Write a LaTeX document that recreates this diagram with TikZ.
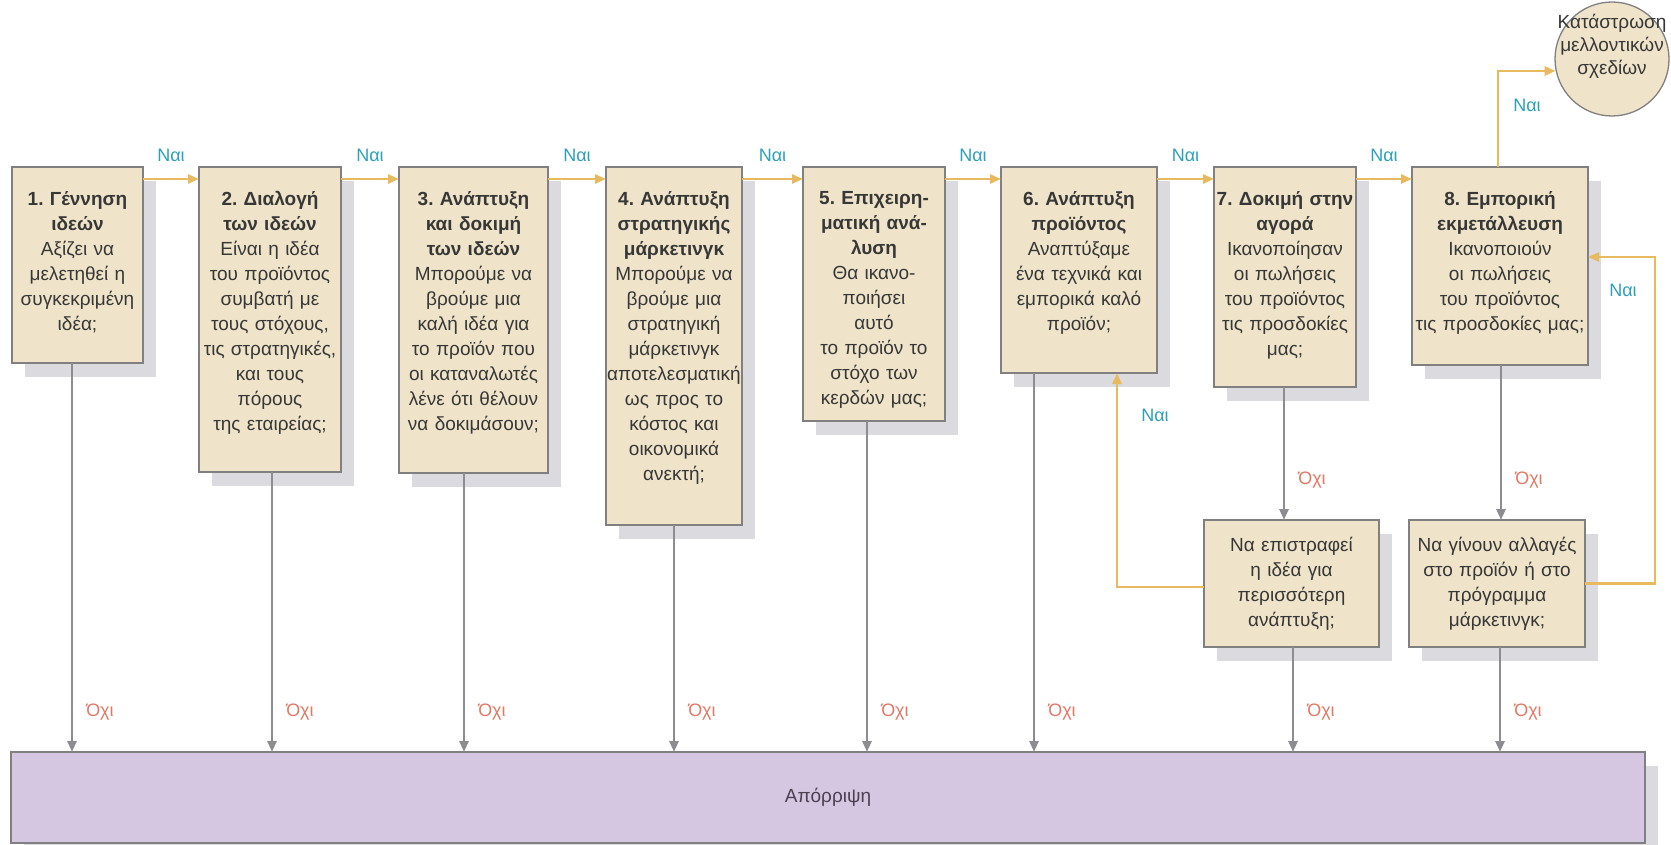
\documentclass[tikz,border=0pt]{standalone}
\usepackage{fontspec}
\setmainfont{Liberation Sans}
\frenchspacing
\usetikzlibrary{arrows.meta,shadows,positioning,calc}
\definecolor{beige}{RGB}{239,228,201}
\definecolor{bordc}{RGB}{128,128,128}
\definecolor{shadc}{RGB}{218,218,223}
\definecolor{orangec}{RGB}{232,186,96}
\definecolor{grayc}{RGB}{140,140,145}
\definecolor{tealc}{RGB}{45,160,185}
\definecolor{salmonc}{RGB}{225,120,100}
\definecolor{purplec}{RGB}{213,199,225}
\definecolor{textc}{RGB}{55,55,55}
\definecolor{rejtext}{RGB}{74,64,80}
\begin{document}
\begin{tikzpicture}[x=1pt,y=-1pt,
  box/.style={draw=bordc, line width=1.3pt, fill=beige, inner sep=0pt, outer sep=0pt,
    drop shadow={shadow xshift=13pt, shadow yshift=-14pt, opacity=1, fill=shadc}},
  txt/.style={font=\fontsize{19}{25}\selectfont, text=textc, align=center, text width=190pt, inner sep=0pt},
  yes/.style={draw=orangec, line width=2.8pt, -{Triangle[length=11pt,width=9pt]}},
  no/.style={draw=grayc, line width=2.8pt, -{Triangle[length=11pt,width=9pt]}},
  nai/.style={font=\fontsize{18}{20}\selectfont, text=tealc, inner sep=0pt},
  oxi/.style={font=\fontsize{18}{20}\selectfont, text=salmonc, inner sep=0pt},
]
\fill[white] (0,0) rectangle (1671,845);
\useasboundingbox (0,0) rectangle (1671,845);

% main boxes
\node[box, minimum width=131pt, minimum height=196pt] (b1) at (77.5,265) {};
\node[box, minimum width=142pt, minimum height=305pt] (b2) at (270,319.5) {};
\node[box, minimum width=149pt, minimum height=306pt] (b3) at (473.5,320) {};
\node[box, minimum width=136pt, minimum height=358pt] (b4) at (674,346) {};
\node[box, minimum width=142pt, minimum height=254pt] (b5) at (874,294) {};
\node[box, minimum width=156pt, minimum height=206pt] (b6) at (1079,270) {};
\node[box, minimum width=142pt, minimum height=220pt] (b7) at (1285,277) {};
\node[box, minimum width=176pt, minimum height=198pt] (b8) at (1500,266) {};
\node[box, minimum width=175pt, minimum height=127pt] (bA) at (1291.5,583.5) {};
\node[box, minimum width=176pt, minimum height=127pt] (bB) at (1497,583.5) {};
\node[box, fill=purplec, minimum width=1634pt, minimum height=91pt,
  font=\fontsize{19}{23}\selectfont, text=rejtext] (rej) at (828,797.5) {Απόρριψη};
\node[circle, draw=bordc, line width=1.3pt, fill=beige, minimum size=114pt, inner sep=0pt] (circ) at (1612,59) {};

% texts
\node[txt, below=24pt of b1.north] (t1) {\textbf{1. Γέννηση}\\\textbf{ιδεών}\\Αξίζει να\\μελετηθεί η\\συγκεκριμένη\\ιδέα;};
\node[txt, below=24pt of b2.north] (t2) {\textbf{2. Διαλογή}\\\textbf{των ιδεών}\\Είναι η ιδέα\\του προϊόντος\\συμβατή με\\τους στόχους,\\τις στρατηγικές,\\και τους\\πόρους\\της εταιρείας;};
\node[txt, below=24pt of b3.north] (t3) {\textbf{3. Ανάπτυξη}\\\textbf{και δοκιμή}\\\textbf{των ιδεών}\\Μπορούμε να\\βρούμε μια\\καλή ιδέα για\\το προϊόν που\\οι καταναλωτές\\λένε ότι θέλουν\\να δοκιμάσουν;};
\node[txt, below=24pt of b4.north] (t4) {\textbf{4. Ανάπτυξη}\\\textbf{στρατηγικής}\\\textbf{μάρκετινγκ}\\Μπορούμε να\\βρούμε μια\\στρατηγική\\μάρκετινγκ\\αποτελεσματική\\ως προς το\\κόστος και\\οικονομικά\\ανεκτή;};
\node[txt, below=24pt of b5.north] (t5) {\textbf{5. Επιχειρη-}\\\textbf{ματική ανά-}\\\textbf{λυση}\\Θα ικανο-\\ποιήσει\\αυτό\\το προϊόν το\\στόχο των\\κερδών μας;};
\node[txt, below=24pt of b6.north] (t6) {\textbf{6. Ανάπτυξη}\\\textbf{προϊόντος}\\Αναπτύξαμε\\ένα τεχνικά και\\εμπορικά καλό\\προϊόν;};
\node[txt, below=24pt of b7.north] (t7) {\textbf{7. Δοκιμή στην}\\\textbf{αγορά}\\Ικανοποίησαν\\οι πωλήσεις\\του προϊόντος\\τις προσδοκίες\\μας;};
\node[txt, below=24pt of b8.north] (t8) {\textbf{8. Εμπορική}\\\textbf{εκμετάλλευση}\\Ικανοποιούν\\οι πωλήσεις\\του προϊόντος\\τις προσδοκίες μας;};
\node[txt] (tA) at (bA.center) {Να επιστραφεί\\η ιδέα για\\περισσότερη\\ανάπτυξη;};
\node[txt] (tB) at (bB.center) {Να γίνουν αλλαγές\\στο προϊόν ή στο\\πρόγραμμα\\μάρκετινγκ;};
\node[txt, font=\fontsize{19}{23}\selectfont] (tc) at ([yshift=13pt]circ.center) {Κατάστρωση\\μελλοντικών\\σχεδίων};

% yes arrows between stages
\foreach \a/\b in {b1/b2,b2/b3,b3/b4,b4/b5,b5/b6,b6/b7,b7/b8}{
  \draw[yes] ([yshift=-12pt]\a.north east) -- node[nai, midway, yshift=24pt]{Ναι} ([yshift=-12pt]\b.north west);
}
% to the circle
\draw[yes] ([xshift=-2pt]b8.north) |- (circ.192);
\node[nai] at (1527,105) {Ναι};

% loops
\draw[yes] ([yshift=-3.5pt]bA.west) -| ([xshift=38pt]b6.south);
\node[nai] at (1155,415) {Ναι};
\draw[yes] (bB.east) -- ++(70,0) coordinate (rb) |- ([yshift=9pt]b8.east);
\node[nai] at (1623,290) {Ναι};

% no arrows to the small boxes
\draw[no] ([xshift=-1pt]b7.south) coordinate (m7) -- (m7 |- bA.north) coordinate (m7e);
\node[oxi] at ([xshift=28pt,yshift=40pt]m7e) {Όχι};
\draw[no] ([xshift=1pt]b8.south) coordinate (m8) -- (m8 |- bB.north) coordinate (m8e);
\node[oxi] at ([xshift=28pt,yshift=40pt]m8e) {Όχι};

% no arrows to rejection
\foreach \n/\s in {b1/-5.5,b2/2,b3/-9.5,b4/0,b5/-7,b6/-45,bA/1.5,bB/3}{
  \draw[no] ([xshift=\s pt]\n.south) coordinate (q) -- (q |- rej.north) coordinate (r);
  \node[oxi] at ([xshift=28pt,yshift=40pt]r) {Όχι};
}
\end{tikzpicture}
\end{document}
